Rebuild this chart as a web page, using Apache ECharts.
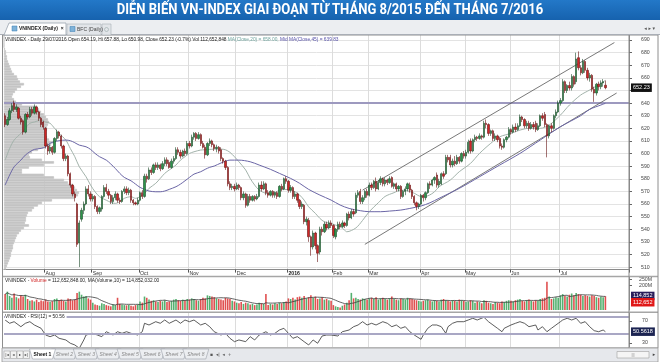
<!DOCTYPE html>
<html><head><meta charset="utf-8">
<script src="https://cdn.jsdelivr.net/npm/echarts@6/dist/echarts.min.js"></script>
<style>html,body{margin:0;padding:0;background:#fff}#c{width:660px;height:362px}</style>
</head><body><div id="c"></div>
<script>
const title = 'DIỄN BIẾN VN-INDEX GIAI ĐOẠN TỪ THÁNG 8/2015 ĐẾN THÁNG 7/2016';
const monthStarts = [18,39,60,82,103,126,146,162,185,205,225,247];
const monthNames = ['Aug','Sep','Oct','Nov','Dec','2016','Feb','Mar','Apr','May','Jun','Jul'];
const priceTicks = [510,520,530,540,550,560,570,580,590,600,610,620,630,640,650,660,670,680,690];
const volTicks = [200,250];
const rsiTicks = [30,70];
const blankDays = 10;

// [open, close, low, high]
const candles = [
[630,623,621,632],[623,627,622,629],[627,634,626,636],[634,638,632,640],[640,635,633,642],[635,637,633,639],[636,628,627,637],[628,625,623,630],[626,617,615,627],[617,631,616,632],[631,629,627,633],[629,635,628,637],[635,632,630,637],[632,637,631,639],[637,633,631,638],[633,628,626,634],[628,623,621,629],[625,621,619,626],
[620,606,604,621],[606,602,599,608],[602,605,600,607],[605,601,599,606],[601,612,600,613],[612,617,610,619],[617,614,612,618],[614,606,604,615],[606,596,594,607],[596,598,594,600],[598,584,582,599],[584,575,573,585],[575,568,566,576],[568,565,562,570],[560,528,526,561],[529,545,510,547],[548,555,546,557],[555,560,552,562],[560,572,559,574],[572,568,566,575],[568,564,562,570],
[564,566,562,568],[566,558,556,567],[558,554,552,559],[554,557,552,558],[556,566,554,567],[566,573,565,575],[573,570,568,576],[570,567,564,572],[567,562,560,568],[562,565,560,567],[565,568,563,570],[568,563,561,569],[563,562,560,565],[562,570,561,571],[570,572,568,574],[572,569,567,574],[569,571,567,573],[571,563,561,572],[563,561,559,564],[561,560,559,562],[560,563,559,565],
[563,569,562,570],[569,566,564,571],[566,582,565,584],[582,580,577,584],[580,587,579,589],[587,585,583,589],[585,591,584,592],[591,589,587,593],[589,591,587,593],[591,588,586,592],[588,592,587,594],[592,595,590,597],[595,592,590,597],[593,589,588,595],[589,594,588,596],[594,596,592,598],[596,603,595,605],[603,601,599,605],[601,598,596,603],[598,602,597,603],[602,600,598,604],[600,608,599,610],
[608,606,604,610],[606,613,605,615],[613,616,611,617],[616,612,610,617],[612,615,611,617],[615,608,606,616],[608,605,604,610],[605,599,596,607],[599,608,598,609],[608,610,606,612],[610,607,605,611],[607,604,602,608],[604,605,601,607],[605,602,600,606],[603,596,594,605],[596,594,592,597],[594,589,587,595],[589,576,574,590],[576,573,571,578],[573,574,571,576],[574,572,570,576],
[572,575,571,577],[575,573,571,576],[573,565,563,574],[565,568,563,570],[568,559,557,569],[559,566,558,568],[566,563,561,568],[563,566,562,567],[566,564,562,567],[564,566,563,568],[566,575,565,577],[575,572,570,578],[572,576,571,578],[576,569,567,577],[569,567,565,571],[567,570,566,571],[570,567,565,571],[567,569,565,570],[569,566,564,570],[566,574,565,575],[574,572,570,576],[572,580,571,581],[580,578,576,582],
[578,571,569,579],[571,573,569,575],[573,566,564,574],[566,568,564,570],[568,563,561,569],[563,558,556,564],[558,560,556,562],[559,546,544,560],[546,548,543,550],[547,534,530,549],[534,526,519,535],[526,537,524,539],[537,527,524,538],[527,521,514,528],[522,540,520,542],[540,538,535,542],[538,544,537,546],[544,541,539,546],[541,545,540,547],[545,543,541,547],
[543,535,533,544],[534,540,532,541],[540,544,538,546],[544,542,540,546],[542,545,541,547],[545,543,541,546],[543,552,542,553],[552,549,547,554],[549,554,548,556],[554,552,550,556],[553,567,552,569],[567,569,565,571],[570,562,560,572],[562,565,560,567],[565,570,563,571],[570,567,565,572],
[567,575,566,577],[575,573,571,577],[573,578,572,579],[578,572,570,581],[572,577,571,579],[577,580,575,582],[580,576,574,581],[576,579,574,581],[579,577,575,580],[577,580,576,582],[581,574,573,582],[574,576,572,577],[576,572,570,577],[572,574,570,575],[574,566,564,575],[566,570,565,571],[570,572,567,574],[572,576,570,577],[575,571,569,577],[571,566,564,572],[566,561,559,567],[561,558,555,562],[558,560,556,561],
[560,567,559,568],[567,565,562,568],[565,569,563,570],[569,576,568,577],[576,575,572,578],[575,579,574,580],[579,581,576,582],[583,575,573,585],[575,578,573,580],[576,584,575,585],[584,582,580,586],[584,597,583,599],[597,595,593,599],[597,591,589,599],[591,594,589,596],[594,592,590,598],[592,597,591,599],[597,594,592,598],[594,600,593,601],[600,598,596,602],
[598,601,596,603],[601,609,600,611],[610,602,600,612],[602,611,601,612],[611,613,609,615],[613,612,610,614],[612,614,611,616],[614,613,611,615],[613,624,612,626],[624,623,620,627],[623,616,614,624],[616,618,614,619],[618,612,610,619],[612,614,610,616],[614,611,609,615],[612,606,604,613],[606,605,603,608],[605,611,604,612],[611,613,609,614],[613,619,612,621],
[619,617,615,620],[617,621,616,623],[621,619,617,624],[619,622,618,624],[622,629,621,631],[629,627,625,630],[627,622,620,628],[622,624,620,626],[624,620,618,626],[620,623,619,625],[623,621,619,625],[624,619,617,626],[619,622,618,624],[622,630,621,631],[630,628,626,632],[631,623,621,633],[623,614,597,624],[614,622,612,623],[622,620,617,624],[620,630,619,631],[630,633,628,635],[633,640,632,642],
[640,642,638,644],[642,657,641,659],[657,650,648,658],[650,654,648,655],[654,652,650,657],[652,661,650,663],[661,655,653,662],[657,675,655,680],[676,668,666,681],[668,664,662,670],[664,673,663,675],[673,666,664,674],[666,660,658,668],[660,662,657,664],[662,651,649,663],[651,648,641,653],[648,655,646,656],[655,653,650,657],[653,656,651,658],[656,657,653,659],[654.19,652.23,650.98,657.88]
];

// daily volume, millions of shares
const volumes = [
130,150,115,100,135,105,95,120,110,125,90,75,80,70,85,65,78,72,
85,70,65,72,90,95,80,85,75,70,95,90,80,85,140,150,125,110,115,95,85,
60,45,40,35,55,50,40,35,30,45,40,100,50,45,40,38,42,35,30,40,45,
70,60,110,100,85,75,80,70,65,75,70,80,65,70,75,85,90,80,75,85,80,90,
85,95,90,80,75,90,100,95,120,115,110,105,95,90,85,80,100,95,90,75,70,
60,55,65,50,60,55,45,50,40,45,60,55,50,130,40,50,45,55,50,60,55,65,70,
95,90,100,85,105,110,100,115,95,105,120,100,110,90,95,105,85,90,80,75,
40,30,25,20,35,45,60,80,140,95,100,90,85,95,90,85,
95,100,90,105,85,95,100,90,85,95,110,90,85,80,95,90,85,100,95,90,85,80,75,
70,75,80,85,75,70,80,75,70,85,90,80,75,70,80,75,70,85,80,75,
65,70,80,75,60,70,65,55,80,75,60,55,50,65,60,55,70,65,75,80,
75,70,80,85,90,75,70,80,85,75,70,80,75,90,95,100,232,110,90,95,105,100,
120,130,115,110,125,135,120,140,130,125,115,120,115,110,120,115,105,100,110,105,112.65
];

// [day index, value]
const ma20 = [[0,594.8],[2,604],[4,610.7],[7,616],[9,620],[11,624],[13,625],[16,626.6],[18,625],[20,624],[22,620],[24,616],[27,610.7],[29,604],[31,597.5],[33,589.5],[36,581.6],[38,575],[40,569.7],[42,565.8],[45,563],[47,561.3],[49,560.5],[51,561.8],[53,564.5],[56,565.8],[58,564.5],[60,565.8],[62,568.4],[64,572.4],[67,576.4],[69,580.3],[71,584.3],[73,587],[76,590.9],[78,594.8],[80,597.5],[82,600.1],[84,601.4],[87,602.8],[89,603],[91,603.3],[93,603.5],[96,603.5],[98,603],[100,601],[102,597.5],[104,593.5],[107,587],[109,580.3],[111,575],[113,571],[116,568.4],[118,567.9],[120,568.9],[122,571],[124,571.6],[127,571],[129,569.7],[131,567.1],[133,563.1],[135,557.8],[138,552.6],[140,548.6],[142,545.9],[145,544.6],[147,543.3],[149,542],[151,539.3],[152,538],[156,541],[159,547],[162,554],[166,561],[169,566],[173,569],[176,571],[179,570.5],[182,568.5],[185,566],[188,566.5],[191,569.7],[193,573.7],[198,579],[202,585.6],[207,592.2],[211,600.1],[216,608.1],[220,613.3],[225,616],[229,618.6],[233,620],[238,620],[242,622.6],[247,630.5],[251,638.5],[256,646.4],[260,650.4],[265,655.7],[267,658]];
const ma45 = [[0,575],[2,582.9],[4,589.5],[7,594.8],[9,598.8],[11,601.4],[13,603.3],[16,604.1],[18,605.4],[20,608.1],[22,609.4],[24,610.2],[27,610.7],[29,610.2],[31,608.6],[33,606.7],[36,605.4],[38,603.3],[40,600.1],[42,597.5],[45,594.8],[47,591.7],[49,588.2],[51,584.3],[53,581.1],[56,578.4],[58,575.8],[60,573.2],[62,571.6],[64,570.3],[67,569.7],[69,569.7],[71,570.3],[73,571.6],[76,573.7],[78,575.8],[80,578.4],[82,581.1],[84,583.7],[87,585.6],[89,587.5],[91,589.1],[93,590.1],[96,592.5],[100,594.8],[104,594.8],[109,593.5],[113,590.9],[118,587.5],[122,584.3],[127,580.3],[131,576.4],[135,571.6],[140,567.1],[145,563.1],[149,559.2],[153,556.5],[158,554.7],[162,553.9],[167,553.9],[171,554.4],[176,555.2],[180,556.5],[185,558.4],[189,561],[193,564.5],[202,572.4],[211,581.6],[220,590.9],[229,600.1],[238,610.7],[247,621.3],[256,630],[260,635],[265,638.5],[267,639.83]];
const rsi = [[0,71.8],[2,65.8],[4,68.7],[7,59.6],[9,65.8],[11,68.7],[13,62.7],[16,56.7],[18,44.5],[20,41.5],[22,44.5],[24,38.5],[27,35.5],[29,29.5],[31,26.4],[33,20.4],[35,35.5],[36,44.5],[39,47.6],[41,44.5],[43,41.5],[45,50.5],[48,44.5],[50,50.5],[52,47.6],[54,50.5],[56,47.6],[59,44.5],[61,50.5],[62,65.8],[64,62.7],[67,68.7],[69,65.8],[71,71.8],[73,65.8],[76,71.8],[78,65.8],[80,71.8],[82,68.7],[84,71.8],[87,62.7],[89,65.8],[91,59.6],[93,50.5],[96,44.5],[98,47.6],[100,38.5],[102,32.4],[104,35.5],[107,32.4],[109,41.5],[111,35.5],[113,44.5],[116,50.5],[118,44.5],[120,47.6],[122,53.6],[124,56.7],[126,47.6],[128,38.5],[130,41.5],[133,32.4],[135,26.4],[137,35.5],[139,29.5],[141,42.7],[143,44.5],[145,44.5],[148,42.7],[150,50.5],[153,53.6],[155,59.6],[157,62.7],[159,68.7],[161,62.7],[163,65.8],[165,62.7],[168,68.7],[170,65.8],[172,59.6],[174,62.7],[176,56.7],[178,59.6],[180,50.5],[182,44.5],[185,36.7],[186,44.5],[188,56.7],[190,62.7],[192,62.7],[194,59.6],[196,47.6],[197,59.6],[199,65.8],[201,68.7],[204,68.7],[206,71.8],[208,74.9],[210,71.8],[213,76.7],[215,68.7],[217,62.7],[219,56.7],[221,50.5],[222,56.7],[225,62.7],[227,65.8],[229,68.7],[231,65.8],[233,59.6],[236,62.7],[237,53.6],[239,59.6],[241,50.5],[243,56.7],[245,62.7],[247,68.7],[248,71.8],[250,74.9],[252,71.8],[254,74.9],[256,65.8],[258,68.7],[260,59.6],[262,52.4],[264,50.5],[266,53.6],[267,50.56]];
const rsiLevels = [78, 46];

// volume-at-price profile, 2-point buckets from 508 upward (relative units)
const profileStart = 508, profileStep = 2;
const profile = [2,3,4,5,6,7,7,8,9,9, 10,11,12,13,15,17,20,25,21,22, 22,23,24,28,30,34,38,48,70,74, 75,73,71,68,64,60,50,40,18,18, 25,40,50,38,26,25,28,34,40,47, 50,45,43,42,42,43,43,44,45,44, 42,40,37,35,32,18,12,10,8,9, 11,13,17,20,16,14,13,10,8,7, 6,5,4,3,3,2,2,1,0,0, 0,0,0];

const supportLevel = 640;
const upperChannel = [[159,571],[271,688]];
const lowerChannel = [[160,528],[272,648]];
const lastClose = 652.23, volMA10Last = 114.852, lastVol = 112.652, lastRSI = 50.5618;

const chart = echarts.init(document.getElementById('c'));
const nCat = candles.length + blankDays;
const cats = Array.from({length:nCat}, (_, i) => String(i));
const startSet = new Set(monthStarts);
const monthInt = (i) => startSet.has(i);
const volMA = volumes.map((v, i) => { const s = Math.max(0, i - 9); let t = 0; for (let k = s; k <= i; k++) t += volumes[k]; return +(t / (i - s + 1)).toFixed(2); });
const bucketLabels = profile.map((_, k) => String(profileStart + profileStep * k));

const F = 'Liberation Sans';
const splitV = {show:true, interval:monthInt, lineStyle:{color:'#dcdcdc', width:1}};
const noLine = {symbol:['none','none'], silent:true, animation:false};
const boxLabel = (txt, bg, extra) => Object.assign({show:true, position:'end', formatter:txt, backgroundColor:bg, color:'#fff', fontSize:5.5, fontFamily:F, padding:[1.5,2,1,2], distance:2}, extra||{});

const option = {
  animation:false,
  backgroundColor:'#fff',
  grid:[
    {left:4, right:31, top:35, height:234.6},
    {left:4, right:31, top:277, height:33},
    {left:4, right:31, top:313, height:34},
    {left:4, top:35, width:120, height:234.6}
  ],
  xAxis:[
    {type:'category', gridIndex:0, data:cats, boundaryGap:true,
     axisLine:{show:true, lineStyle:{color:'#8a8a8a'}},
     axisTick:{show:true, interval:monthInt, length:3, lineStyle:{color:'#555'}},
     axisLabel:{show:true, interval:monthInt, fontSize:5.2, fontFamily:F, color:'#333', align:'left', margin:1.5,
       formatter:(v) => { const n = monthNames[monthStarts.indexOf(Number(v))] || ''; return n === '2016' ? '{b|' + n + '}' : n; },
       rich:{b:{fontWeight:'bold', fontSize:5.2, fontFamily:F, color:'#222'}}},
     splitLine:splitV},
    {type:'category', gridIndex:1, data:cats, axisLine:{show:false}, axisTick:{show:false}, axisLabel:{show:false}, splitLine:splitV},
    {type:'category', gridIndex:2, data:cats, axisLine:{show:false}, axisTick:{show:false}, axisLabel:{show:false}, splitLine:splitV},
    {type:'value', gridIndex:3, min:0, max:120, show:false}
  ],
  yAxis:[
    {type:'value', gridIndex:0, position:'right', min:508, max:694,
     axisLine:{show:true, lineStyle:{color:'#8a8a8a'}},
     axisTick:{show:true, customValues:priceTicks, length:3, lineStyle:{color:'#666'}},
     axisLabel:{customValues:priceTicks, fontSize:5.2, fontFamily:F, color:'#444', margin:12},
     splitLine:{show:true, lineStyle:{color:'#e3e3e3'}}},
    {type:'value', gridIndex:1, position:'right', min:0, max:270,
     axisLine:{show:true, lineStyle:{color:'#8a8a8a'}},
     axisTick:{show:true, customValues:volTicks, length:3, lineStyle:{color:'#666'}},
     axisLabel:{customValues:volTicks, formatter:(v) => v + 'M', fontSize:5.2, fontFamily:F, color:'#444', margin:10},
     splitLine:{show:false}},
    {type:'value', gridIndex:2, position:'right', min:22.7, max:84.5,
     axisLine:{show:true, lineStyle:{color:'#8a8a8a'}},
     axisTick:{show:true, customValues:rsiTicks, length:3, lineStyle:{color:'#666'}},
     axisLabel:{customValues:rsiTicks, fontSize:5.2, fontFamily:F, color:'#444', margin:13},
     splitLine:{show:false}},
    {type:'category', gridIndex:3, data:bucketLabels, show:false}
  ],
  series:[
    {type:'bar', name:'profile', xAxisIndex:3, yAxisIndex:3, data:profile, barCategoryGap:'0%', silent:true, z:3,
     itemStyle:{color:'#c4c4c4', borderColor:'#c4c4c4', borderWidth:0.7}},
    {type:'candlestick', name:'VNINDEX', xAxisIndex:0, yAxisIndex:0, data:candles, barWidth:1.8, z:6,
     itemStyle:{color:'#2b9549', color0:'#d02626', borderColor:'#1d4a2a', borderColor0:'#661414', borderWidth:0.6},
     markLine:Object.assign({}, noLine, {label:{show:false}, data:[
       {yAxis:supportLevel, lineStyle:{color:'#9d99bf', width:2, type:'solid'}},
       [{coord:[upperChannel[0][0], upperChannel[0][1]], lineStyle:{color:'#555', width:0.8, type:'solid'}}, {coord:[upperChannel[1][0], upperChannel[1][1]]}],
       [{coord:[lowerChannel[0][0], lowerChannel[0][1]], lineStyle:{color:'#555', width:0.8, type:'solid'}}, {coord:[lowerChannel[1][0], lowerChannel[1][1]]}],
       {yAxis:lastClose, lineStyle:{color:'rgba(0,0,0,0)'}, label:boxLabel(lastClose.toFixed(2), '#111')}
     ]})},
    {type:'line', name:'MA20', xAxisIndex:0, yAxisIndex:0, data:ma20, symbol:'none', smooth:0.3, z:5,
     lineStyle:{color:'#a3b3ab', width:1}},
    {type:'line', name:'MA45', xAxisIndex:0, yAxisIndex:0, data:ma45, symbol:'none', smooth:0.3, z:5,
     lineStyle:{color:'#6b66a6', width:1}},
    {type:'bar', name:'Volume', xAxisIndex:1, yAxisIndex:1, data:volumes, barWidth:1.6, z:3,
     itemStyle:{color:(p) => { const c = candles[p.dataIndex]; return c[1] >= c[0] ? '#55b070' : '#e05050'; }},
     markLine:Object.assign({}, noLine, {data:[
       {yAxis:volMA10Last, lineStyle:{color:'rgba(0,0,0,0)'}, label:boxLabel('114,852', '#2a1f5c')},
       {yAxis:lastVol, lineStyle:{color:'rgba(0,0,0,0)'}, label:boxLabel('112,652', '#e01818', {offset:[0,6]})}
     ]})},
    {type:'line', name:'MA(Volume,10)', xAxisIndex:1, yAxisIndex:1, data:volMA, symbol:'none', z:4,
     lineStyle:{color:'#3c3c3c', width:0.8}},
    {type:'line', name:'RSI', xAxisIndex:2, yAxisIndex:2, data:rsi, symbol:'none', z:4,
     lineStyle:{color:'#333', width:0.8},
     markLine:Object.assign({}, noLine, {data:[
       {yAxis:rsiLevels[0], lineStyle:{color:'#a9a7c4', width:2, type:'solid'}, label:{show:false}},
       {yAxis:rsiLevels[1], lineStyle:{color:'#a9a7c4', width:2, type:'solid'}, label:{show:false}},
       {yAxis:lastRSI, lineStyle:{color:'rgba(0,0,0,0)'}, label:boxLabel('50.5618', '#1c2452')}
     ]})}
  ],
  graphic:[]
};

const g = option.graphic;
// title bar
g.push({type:'rect', shape:{x:0, y:0, width:660, height:20}, style:{fill:new echarts.graphic.LinearGradient(0,0,0,1,[{offset:0,color:'#2378c8'},{offset:1,color:'#1662ae'}])}, z:10});
g.push({type:'text', x:330, y:10.5, scaleX:0.9, style:{text:title, fill:'#fff', font:'bold 14.5px Roboto', textAlign:'center', textVerticalAlign:'middle'}, z:11});
// tab bar
g.push({type:'rect', shape:{x:0, y:20, width:660, height:15}, style:{fill:'#eceef1'}, z:10});
g.push({type:'line', shape:{x1:0, y1:34.5, x2:660, y2:34.5}, style:{stroke:'#a9aeb6', lineWidth:1}, z:11});
g.push({type:'polygon', shape:{points:[[4,35],[9,23],[66,23],[66,35]]}, style:{fill:'#fff', stroke:'#9aa3ae', lineWidth:0.8}, z:11});
g.push({type:'rect', shape:{x:12, y:26, width:5, height:5}, style:{fill:'#7fb2d8', stroke:'#3a7fb5', lineWidth:0.5}, z:12});
g.push({type:'text', x:19, y:29, style:{text:'VNINDEX (Daily)  ×', fill:'#222', font:'bold 5px "Liberation Sans"', textVerticalAlign:'middle'}, z:12});
g.push({type:'rect', shape:{x:67, y:24, width:34, height:11}, style:{fill:'#e2e5e9', stroke:'#a9aeb6', lineWidth:0.6}, z:11});
g.push({type:'rect', shape:{x:70, y:26.5, width:5, height:5}, style:{fill:'#7fb2d8', stroke:'#3a7fb5', lineWidth:0.5}, z:12});
g.push({type:'text', x:77, y:29.5, style:{text:'BFC (Daily)', fill:'#444', font:'5px "Liberation Sans"', textVerticalAlign:'middle'}, z:12});
g.push({type:'rect', shape:{x:102, y:24, width:9, height:11}, style:{fill:'#e2e5e9', stroke:'#a9aeb6', lineWidth:0.6}, z:11});
g.push({type:'circle', shape:{cx:106.5, cy:29.5, r:2}, style:{fill:'none', stroke:'#9aa', lineWidth:0.6}, z:12});
g.push({type:'text', x:655, y:29, style:{text:'◂ ▸ ▾', fill:'#555', font:'5px "DejaVu Sans"', textAlign:'right', textVerticalAlign:'middle'}, z:12});
// info line
g.push({type:'text', x:5, y:39.5, style:{text:'{a|VNINDEX - Daily 29/07/2016 Open 654.19, Hi 657.88, Lo 650.98, Close 652.23 (-0.7%) Vol 112,652,848 }{b|MA(Close,20) = 658.00, }{c|Mid MA(Close,45) = 639.83}',
  font:'4.8px "Liberation Sans"', textVerticalAlign:'middle',
  rich:{a:{fill:'#222', fontSize:4.8, fontFamily:F}, b:{fill:'#6fa39d', fontSize:4.8, fontFamily:F}, c:{fill:'#5650a8', fontSize:4.8, fontFamily:F}}}, z:12});
// panel separators and frame
g.push({type:'line', shape:{x1:2, y1:276.5, x2:658, y2:276.5}, style:{stroke:'#a6a6a6', lineWidth:1.5}, z:9});
g.push({type:'line', shape:{x1:2, y1:312.3, x2:658, y2:312.3}, style:{stroke:'#a6a6a6', lineWidth:1.5}, z:9});
g.push({type:'line', shape:{x1:629, y1:35, x2:629, y2:348}, style:{stroke:'#8a8a8a', lineWidth:1}, z:9});
g.push({type:'rect', shape:{x:2.5, y:35, width:655.5, height:313}, style:{fill:'none', stroke:'#8e8e8e', lineWidth:1}, z:9});
// panel captions
g.push({type:'text', x:5, y:280.5, style:{text:'{a|VNINDEX - }{r|Volume}{a| = 112,652,848.00, MA(Volume,10) = 114,852,032.00}', font:'4.8px "Liberation Sans"', textVerticalAlign:'middle',
  rich:{a:{fill:'#222', fontSize:4.8, fontFamily:F}, r:{fill:'#d02020', fontSize:4.8, fontFamily:F}}}, z:12});
g.push({type:'text', x:5, y:317, style:{text:'VNINDEX - RSI(12) = 50.56', fill:'#222', font:'4.8px "Liberation Sans"', textVerticalAlign:'middle', backgroundColor:'#fff', padding:[0,2,0,0]}, z:12});
// sheet tabs
g.push({type:'rect', shape:{x:2, y:348, width:656, height:14}, style:{fill:'#e6e8ec', stroke:'#9a9a9a', lineWidth:0.8}, z:10});
['|◂','◂','▸','▸|'].forEach((t, k) => {
  g.push({type:'rect', shape:{x:4 + k*6.5, y:351, width:6, height:7.5}, style:{fill:'#f2f2f2', stroke:'#999', lineWidth:0.5}, z:11});
  g.push({type:'text', x:7 + k*6.5, y:355, style:{text:t, fill:'#333', font:'4px "DejaVu Sans"', textAlign:'center', textVerticalAlign:'middle'}, z:12});
});
for (let k = 0; k < 8; k++) {
  const cx = 42.5 + 21.9*k;
  g.push({type:'polygon', shape:{points:[[cx-13,349],[cx-10,359],[cx+10,359],[cx+13,349]]}, style:{fill:k === 0 ? '#fff' : '#eceef1', stroke:'#9aa0a8', lineWidth:0.6}, z:k === 0 ? 12 : 11});
  g.push({type:'text', x:cx, y:354.5, style:{text:'Sheet ' + (k+1), fill:k === 0 ? '#111' : '#888', font:(k === 0 ? 'bold ' : 'italic ') + '5px "Liberation Sans"', textAlign:'center', textVerticalAlign:'middle'}, z:13});
}
g.push({type:'text', x:210, y:354.5, style:{text:'▪  ◂|  ◂  +', fill:'#555', font:'4.5px "DejaVu Sans"', textVerticalAlign:'middle'}, z:12});
g.push({type:'rect', shape:{x:617, y:351.5, width:32, height:6.5}, style:{fill:'#f5f5f5', stroke:'#a0a0a0', lineWidth:0.6}, z:11});
g.push({type:'text', x:633, y:354.8, style:{text:'|||', fill:'#888', font:'4px "Liberation Sans"', textAlign:'center', textVerticalAlign:'middle'}, z:12});
g.push({type:'text', x:654, y:354.8, style:{text:'▸', fill:'#444', font:'5px "DejaVu Sans"', textAlign:'center', textVerticalAlign:'middle'}, z:12});

chart.setOption(option);
</script></body></html>
